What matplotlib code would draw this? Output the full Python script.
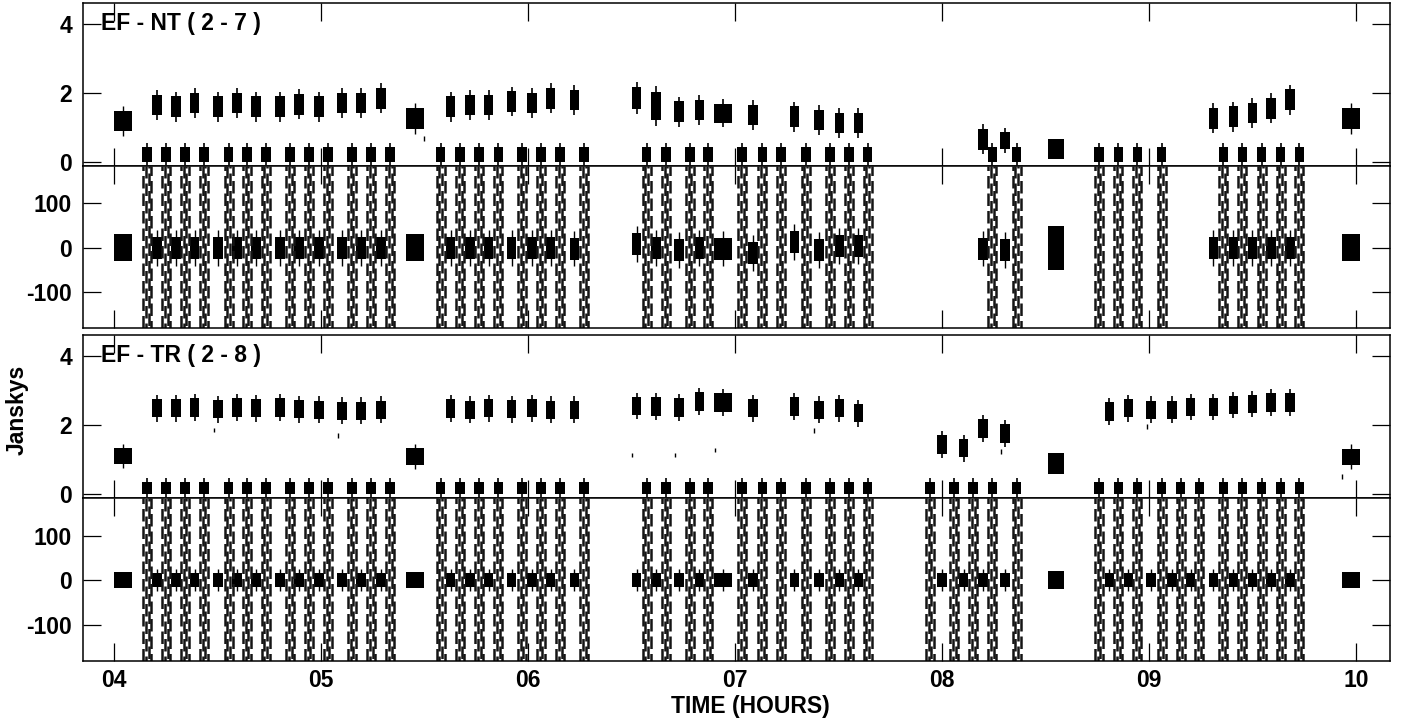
import matplotlib
matplotlib.use('Agg')
import matplotlib.pyplot as plt
import matplotlib.transforms as mtransforms
import numpy as np

plt.rcParams['font.family'] = ['Liberation Sans', 'DejaVu Sans']
plt.rcParams['font.weight'] = 'bold'

# ---------------- data ----------------
hour_ticks = [4, 5, 6, 7, 8, 9, 10]
hour_labels = ['04', '05', '06', '07', '08', '09', '10']
baseline_titles = ['EF - NT ( 2 - 7 )', 'EF - TR ( 2 - 8 )']

# target scans (phase wraps through full range, amplitude ~0.2 Jy)
target_nt = [4.161, 4.253, 4.343, 4.435, 4.554, 4.643, 4.734, 4.852, 4.943, 5.035, 5.151, 5.243, 5.335,
             5.578, 5.673, 5.765, 5.857, 5.972, 6.064, 6.156, 6.272,
             6.573, 6.667, 6.783, 6.871, 7.035, 7.132, 7.222, 7.342, 7.459, 7.551, 7.641,
             8.243, 8.361,
             8.758, 8.852, 8.944, 9.061,
             9.359, 9.451, 9.544, 9.636, 9.726]
target_tr = [4.161, 4.253, 4.343, 4.435, 4.554, 4.643, 4.734, 4.852, 4.943, 5.035, 5.151, 5.243, 5.335,
             5.578, 5.673, 5.765, 5.857, 5.972, 6.064, 6.156, 6.272,
             6.573, 6.667, 6.783, 6.871, 7.035, 7.132, 7.222, 7.342, 7.459, 7.551, 7.641,
             7.942, 8.059, 8.151, 8.243, 8.361,
             8.758, 8.852, 8.944, 9.061, 9.153, 9.243,
             9.359, 9.451, 9.544, 9.636, 9.726]
target_amp_nt = 0.21
target_amp_tr = 0.17

# phase-reference calibrator scans
cal_t_nt = [4.208, 4.301, 4.390, 4.502, 4.596, 4.687, 4.803, 4.894, 4.990, 5.103, 5.195, 5.290,
            5.627, 5.720, 5.810, 5.921, 6.019, 6.110, 6.224,
            6.525, 6.618, 6.731, 6.828, 6.944, 7.086, 7.287, 7.407, 7.504, 7.596,
            8.197, 8.304,
            9.311, 9.407, 9.499, 9.589, 9.681]
cal_amp_nt = [1.65, 1.60, 1.70, 1.60, 1.70, 1.60, 1.60, 1.67, 1.60, 1.70, 1.70, 1.84,
              1.60, 1.65, 1.65, 1.75, 1.70, 1.84, 1.79,
              1.85, 1.62, 1.45, 1.50, 1.41, 1.36, 1.31, 1.21, 1.12, 1.12,
              0.65, 0.62,
              1.26, 1.31, 1.41, 1.55, 1.80]
cal_spread_nt = [0.30] * 19 + [0.32, 0.40, 0.30, 0.30, 0.28, 0.30, 0.30, 0.30, 0.30, 0.30,
                               0.30, 0.25] + [0.30] * 5
cal_phase_nt = [0, 0, 0, 0, 0, 0, 0, 0, 0, 0, 0, 0,
                0, 0, 0, 0, 0, 0, -2,
                8, 0, -5, 0, -2, -12, 13, -5, 4, 4,
                -2, -5,
                0, 0, 0, 0, 0]

cal_t_tr = [4.208, 4.301, 4.390, 4.502, 4.596, 4.687, 4.803, 4.894, 4.990, 5.103, 5.195, 5.290,
            5.627, 5.720, 5.810, 5.921, 6.019, 6.110, 6.224,
            6.525, 6.618, 6.731, 6.828, 6.944, 7.086, 7.287, 7.407, 7.504, 7.596,
            8.001, 8.104, 8.197, 8.304,
            8.808, 8.900, 9.010, 9.110, 9.201, 9.311, 9.407, 9.499, 9.589, 9.681]
cal_amp_tr = [2.49, 2.49, 2.50, 2.46, 2.51, 2.49, 2.51, 2.46, 2.44, 2.41, 2.41, 2.44,
              2.48, 2.44, 2.49, 2.46, 2.49, 2.44, 2.44,
              2.55, 2.53, 2.51, 2.68, 2.65, 2.49, 2.53, 2.44, 2.49, 2.34,
              1.43, 1.32, 1.90, 1.75,
              2.39, 2.49, 2.44, 2.44, 2.52, 2.52, 2.58, 2.61, 2.65, 2.65]
cal_phase_tr = [0] * len(cal_t_tr)

# secondary calibrator (~1.1 Jy) and the 08:33 source
src_t = [4.043, 5.454, 9.976]
src_amp_nt = [1.18, 1.26, 1.26]
src_amp_tr = [1.09, 1.08, 1.07]
src2_t = [8.551]
src2_amp_nt = [0.37]
src2_amp_tr = [0.88]

# isolated single points
out_t_tr = [4.483, 5.082, 6.502, 6.712, 6.905, 7.382, 8.285, 8.989, 9.932]
out_amp_tr = [1.85, 1.70, 1.12, 1.12, 1.27, 1.83, 1.22, 1.95, 0.49]
out_t_nt = [5.498]
out_amp_nt = [0.68]

# ---------------- layout ----------------
W, H = 1401, 724
fig = plt.figure(figsize=(W / 100, H / 100), dpi=100)
left = 83 / W
width = (1390 - 83) / W
rows = [(3.3, 166), (166, 328.3), (335.3, 498), (498, 661)]
axes = []
for top, bot in rows:
    axes.append(fig.add_axes([left, 1 - bot / H, width, (bot - top) / H]))

XLIM = (3.851, 10.164)
AMP_LIM = (-0.13, 4.61)
PH_LIM = (-181, 184)

DUR = 0.046      # ordinary scan length (hours)
DUR_LONG = 0.087  # long scans
FS = 16.5

def style(ax, yt, ylim, show_x):
    ax.set_xlim(*XLIM)
    ax.set_ylim(*ylim)
    ax.set_xticks(hour_ticks)
    ax.set_xticklabels(hour_labels if show_x else [])
    ax.set_yticks(yt)
    ax.set_yticklabels([str(v) for v in yt])
    ax.tick_params(direction='in', length=13, width=0.9, top=True, right=True,
                   labelsize=FS, pad=8, labelbottom=show_x)
    ax.tick_params(axis='x', pad=6)
    for s in ax.spines.values():
        s.set_linewidth(1.1)
    for lab in ax.get_xticklabels() + ax.get_yticklabels():
        lab.set_fontweight('bold')

def draw_amp(ax, cal_t, cal_amp, cal_spread, src_amp, src2_amp, tgt, tgt_amp, out_t, out_amp, sp_src, wide_cal):
    ca = np.array(cal_amp); cs = np.array(cal_spread)
    widths = [DUR_LONG if t in wide_cal else DUR for t in cal_t]
    ax.bar(cal_t, 2 * cs, bottom=ca - cs, width=widths, color='black', lw=0)
    ax.vlines(cal_t, ca - 1.45 * cs, ca + 1.45 * cs, color='black', lw=1.2)
    sa = np.array(src_amp)
    ax.bar(src_t, 2 * sp_src, bottom=sa - sp_src, width=DUR_LONG, color='black', lw=0)
    ax.vlines(src_t, sa - 1.5 * sp_src, sa + 1.5 * sp_src, color='black', lw=1.0)
    s2 = np.array(src2_amp)
    ax.bar(src2_t, 0.6, bottom=s2 - 0.3, width=0.08, color='black', lw=0)
    ta = np.full(len(tgt), tgt_amp)
    ax.bar(tgt, 2 * ta, bottom=0.0, width=DUR, color='black', lw=0)
    ax.vlines(tgt, -0.1, 2.6 * ta, color='black', lw=1.2)
    oa = np.array(out_amp)
    ax.vlines(out_t, oa - 0.07, oa + 0.07, color='black', lw=1.0)

def draw_phase(ax, cal_t, cal_phase, ph_sp, tgt, src_sp, src2_sp, wide_cal):
    cp = np.array(cal_phase, dtype=float)
    widths = [DUR_LONG if t in wide_cal else DUR for t in cal_t]
    ax.bar(cal_t, 2 * ph_sp, bottom=cp - ph_sp, width=widths, color='black', lw=0)
    ax.vlines(cal_t, cp - 1.6 * ph_sp, cp + 1.6 * ph_sp, color='black', lw=1.0)
    ax.bar(src_t, 2 * src_sp, bottom=-src_sp, width=DUR_LONG, color='black', lw=0)
    ax.bar(src2_t, 2 * src2_sp, bottom=-src2_sp, width=0.08, color='black', lw=0)
    tg = np.array(tgt)
    for k, off in enumerate((-0.42, -0.14, 0.14, 0.42)):
        ax.vlines(tg + off * DUR, PH_LIM[0], PH_LIM[1], color='#151515', lw=1.8,
                  linestyles=[((k * 3) % 7, (5, 2))])

wide_cal = [6.944]
# EF - NT
draw_amp(axes[0], cal_t_nt, cal_amp_nt, cal_spread_nt, src_amp_nt, src2_amp_nt,
         target_nt, target_amp_nt, out_t_nt, out_amp_nt, 0.30, wide_cal)
draw_phase(axes[1], cal_t_nt, cal_phase_nt, 25, target_nt, 30, 50, wide_cal)
# EF - TR
draw_amp(axes[2], cal_t_tr, cal_amp_tr, [0.27] * len(cal_t_tr), src_amp_tr, src2_amp_tr,
         target_tr, target_amp_tr, out_t_tr, out_amp_tr, 0.24, wide_cal)
draw_phase(axes[3], cal_t_tr, cal_phase_tr, 15, target_tr, 18, 20, wide_cal)

style(axes[0], [0, 2, 4], AMP_LIM, False)
style(axes[1], [-100, 0, 100], PH_LIM, False)
style(axes[2], [0, 2, 4], AMP_LIM, False)
style(axes[3], [-100, 0, 100], PH_LIM, True)

for ax, title in ((axes[0], baseline_titles[0]), (axes[2], baseline_titles[1])):
    tr = mtransforms.blended_transform_factory(ax.transAxes, ax.transData)
    ax.text((101 - 83) / 1307, 4.03, title, transform=tr, fontsize=FS, fontweight='bold',
            va='center', ha='left')

fig.text(750 / W, 1 - 706 / H, 'TIME (HOURS)', ha='center', va='center', fontsize=FS, fontweight='bold')
fig.text(17 / W, 1 - 410 / H, 'Janskys', ha='center', va='center', rotation=90, fontsize=FS, fontweight='bold')

fig.savefig('out.png', dpi=100, facecolor='white')
